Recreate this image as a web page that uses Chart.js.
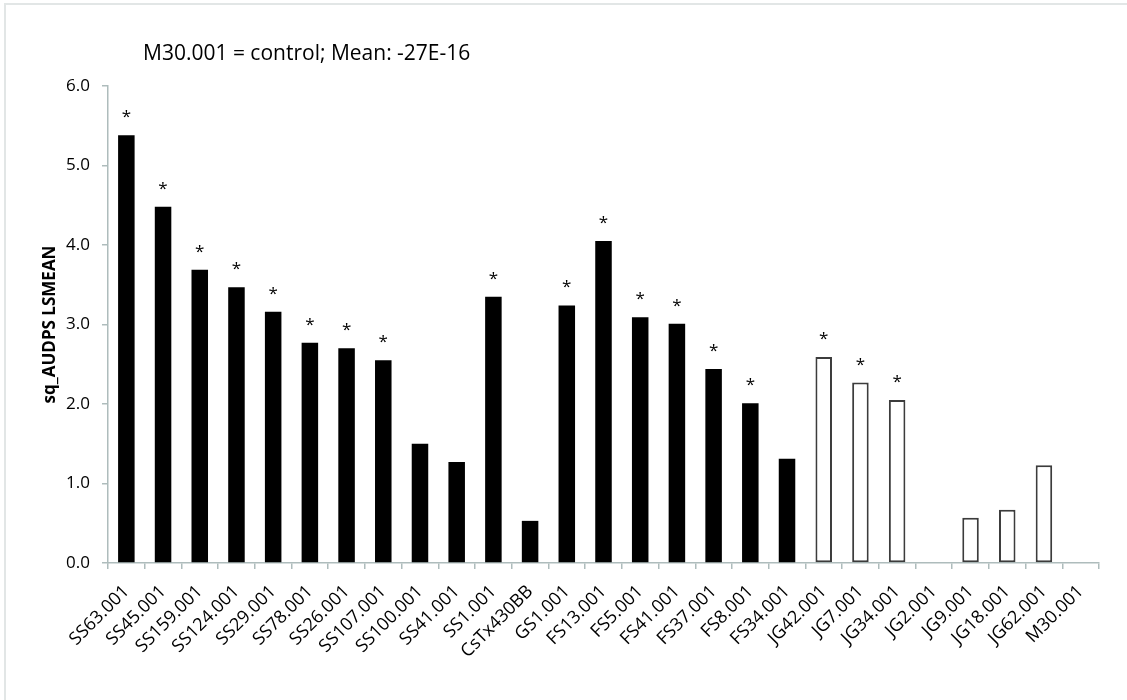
<!DOCTYPE html>
<html>
<head>
<meta charset="utf-8">
<script src="https://cdn.jsdelivr.net/npm/chart.js@4.4.0/dist/chart.umd.min.js"></script>
<style>
  html, body { margin: 0; padding: 0; background: #fff; overflow: hidden; }
  #frame { position: absolute; left: 4px; top: 3px; width: 2000px; height: 2000px;
           border: 2px solid #e2e6e6; box-sizing: border-box; }
  #myChart { position: absolute; left: 0; top: 0; }
</style>
</head>
<body>
<div id="frame"></div>
<canvas id="myChart" width="1127" height="700"></canvas>
<script>
// lines, their LSMEAN of sq_AUDPS, and whether they differ from the control
var lines = ['SS63.001', 'SS45.001', 'SS159.001', 'SS124.001', 'SS29.001', 'SS78.001',
  'SS26.001', 'SS107.001', 'SS100.001', 'SS41.001', 'SS1.001', 'CsTx430BB', 'GS1.001',
  'FS13.001', 'FS5.001', 'FS41.001', 'FS37.001', 'FS8.001', 'FS34.001', 'JG42.001',
  'JG7.001', 'JG34.001', 'JG2.001', 'JG9.001', 'JG18.001', 'JG62.001', 'M30.001'];
var lsmeans = [5.38, 4.48, 3.69, 3.47, 3.16, 2.77, 2.70, 2.55, 1.50, 1.27, 3.35, 0.53, 3.24,
  4.05, 3.09, 3.01, 2.44, 2.01, 1.31, 2.59, 2.27, 2.05, 0, 0.57, 0.67, 1.23, 0];
var significant = [1, 1, 1, 1, 1, 1, 1, 1, 0, 0, 1, 0, 1,
  1, 1, 1, 1, 1, 0, 1, 1, 1, 0, 0, 0, 0, 0];
var yTicks = [0, 1, 2, 3, 4, 5, 6];

var axisColor = '#aebcbc';
var FONT = '"Open Sans", "Liberation Sans", sans-serif';

// JG lines and the control are drawn hollow
function isHollow(name) {
  return name.indexOf('JG') === 0 || name.indexOf('M30') === 0;
}

// header text and the asterisks over significant bars
var annotations = {
  id: 'annotations',
  afterDatasetsDraw: function(chart) {
    var c = chart.ctx;
    var meta = chart.getDatasetMeta(0);
    var yScale = chart.scales.y;
    c.save();
    c.fillStyle = '#000';
    c.font = '21px ' + FONT;
    c.textAlign = 'left';
    c.textBaseline = 'alphabetic';
    c.fillText('M30.001 = control; Mean: -27E-16', 143, 60);

    c.font = '17px ' + FONT;
    c.textAlign = 'center';
    for (var i = 0; i < lsmeans.length; i++) {
      if (!significant[i]) continue;
      var x = meta.data[i].x;
      var top = yScale.getPixelForValue(lsmeans[i]);
      c.fillText('*', x, top - 13);
    }
    c.restore();
  }
};

var ctx = document.getElementById('myChart').getContext('2d');

var myChart = new Chart(ctx, {
  type: 'bar',
  data: {
    labels: lines,
    datasets: [{
      label: 'sq_AUDPS LSMEAN',
      data: lsmeans,
      backgroundColor: lines.map(function(n) { return isHollow(n) ? '#ffffff' : '#000000'; }),
      borderColor: lines.map(function(n) { return isHollow(n) ? '#3c3c3c' : '#000000'; }),
      borderWidth: lines.map(function(n) { return isHollow(n) ? 2 : 0; }),
      borderSkipped: false,
      barPercentage: 0.45,
      categoryPercentage: 1.0
    }]
  },
  plugins: [annotations],
  options: {
    responsive: false,
    animation: false,
    layout: { padding: { top: 86, right: 28, left: 0, bottom: 0 } },
    plugins: {
      legend: { display: false },
      tooltip: { enabled: false }
    },
    scales: {
      x: {
        afterFit: function(scale) { scale.height = 137; },
        grid: {
          display: true,
          drawOnChartArea: false,
          offset: true,
          tickLength: 6,
          color: axisColor,
          lineWidth: 1.5
        },
        border: { color: axisColor, width: 1.5 },
        ticks: {
          autoSkip: false,
          minRotation: 45,
          maxRotation: 45,
          padding: 12,
          color: '#000',
          font: { family: FONT, size: 18 }
        }
      },
      y: {
        min: 0,
        max: 6,
        afterFit: function(scale) { scale.width = 108; },
        afterBuildTicks: function(scale) {
          scale.ticks = yTicks.map(function(v) { return { value: v }; });
        },
        grid: {
          display: true,
          drawOnChartArea: false,
          tickLength: 6,
          color: axisColor,
          lineWidth: 1.5
        },
        border: { color: axisColor, width: 1.5 },
        ticks: {
          padding: 12,
          color: '#000',
          font: { family: FONT, size: 17 },
          callback: function(v) { return Number(v).toFixed(1); }
        },
        title: {
          display: true,
          text: 'sq_AUDPS LSMEAN',
          color: '#000',
          font: { family: FONT, size: 17, weight: 'bold' },
          padding: { top: 40, bottom: 0 }
        }
      }
    }
  }
});
</script>
</body>
</html>
